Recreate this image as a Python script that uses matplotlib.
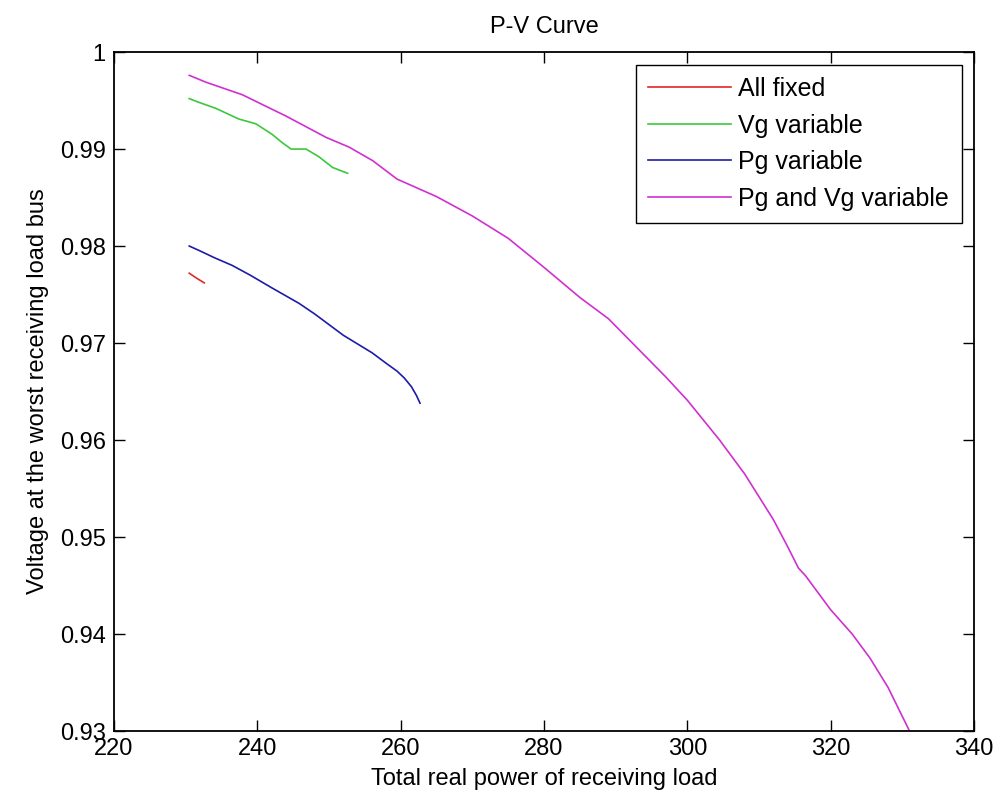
import matplotlib
matplotlib.use("Agg")
import matplotlib.pyplot as plt

plt.rcParams['font.family'] = ['Liberation Sans', 'DejaVu Sans']

# All fixed
p_fixed = [230.5, 231.5, 232.6]
v_fixed = [0.9772, 0.9767, 0.9762]

# Vg variable
p_vg = [230.5, 231.9, 234.2, 237.4, 239.8, 242.1, 243.4, 244.7, 246.8, 248.6, 250.5, 252.6]
v_vg = [0.9952, 0.9948, 0.9942, 0.9931, 0.9926, 0.9915, 0.9907, 0.9900, 0.9900, 0.9892, 0.9881, 0.9875]

# Pg variable
p_pg = [230.5, 232.0, 234.0, 236.5, 239.0, 242.0, 245.8, 248.0, 250.0, 252.0, 254.0,
        256.0, 258.0, 259.5, 260.5, 261.5, 262.2, 262.7]
v_pg = [0.9800, 0.9795, 0.9788, 0.9780, 0.9770, 0.9757, 0.9741, 0.9730, 0.9719, 0.9708, 0.9699,
        0.9690, 0.9679, 0.9671, 0.9664, 0.9655, 0.9646, 0.9638]

# Pg and Vg variable
p_pvg = [230.5, 232.8, 237.9, 244.0, 249.6, 252.8, 256.1, 259.5, 265.0, 270.0, 275.0, 280.0,
         285.0, 289.0, 293.0, 297.0, 300.0, 304.5, 308.0, 312.0, 314.0, 315.5, 316.5, 318.0,
         320.0, 323.0, 325.5, 328.0, 331.0]
v_pvg = [0.9976, 0.9969, 0.9956, 0.9934, 0.9912, 0.9902, 0.9888, 0.9869, 0.9851, 0.9831, 0.9808, 0.9778,
         0.9747, 0.9725, 0.9695, 0.9665, 0.9641, 0.9600, 0.9565, 0.9518, 0.9490, 0.9468, 0.9460, 0.9445,
         0.9425, 0.9400, 0.9375, 0.9345, 0.9300]

fig = plt.figure(figsize=(9.99, 8.02), dpi=100)
ax = fig.add_axes([0.1141, 0.0885, 0.8609, 0.8466])

ax.plot(p_fixed, v_fixed, color='#e02828', lw=1.2, label='All fixed')
ax.plot(p_vg, v_vg, color='#3cc83c', lw=1.2, label='Vg variable')
ax.plot(p_pg, v_pg, color='#1c1ca8', lw=1.2, label='Pg variable')
ax.plot(p_pvg, v_pvg, color='#d030d0', lw=1.2, label='Pg and Vg variable')

ax.set_xlim(220, 340)
ax.set_ylim(0.93, 1.0)
ax.set_xticks(range(220, 341, 20))
ax.set_yticks([0.93, 0.94, 0.95, 0.96, 0.97, 0.98, 0.99, 1.0])
ax.set_yticklabels(['0.93', '0.94', '0.95', '0.96', '0.97', '0.98', '0.99', '1'])
ax.tick_params(direction='in', length=8, width=1, top=True, right=True, labelsize=17)
ax.tick_params(axis='x', pad=5)
ax.tick_params(axis='y', pad=6)
for s in ax.spines.values():
    s.set_linewidth(1.3)

ax.set_title('P-V Curve', fontsize=17, pad=14)
ax.set_xlabel('Total real power of receiving load', fontsize=17, labelpad=6)
ax.set_ylabel('Voltage at the worst receiving load bus', fontsize=17, labelpad=8)

leg = ax.legend(loc='upper right', fontsize=18, fancybox=False, framealpha=1,
                edgecolor='black', handlelength=3.3, handletextpad=0.3,
                labelspacing=0.5, borderaxespad=0.5, borderpad=0.5)
leg.get_frame().set_linewidth(1.0)

fig.savefig('out.png', dpi=100, facecolor='white')
